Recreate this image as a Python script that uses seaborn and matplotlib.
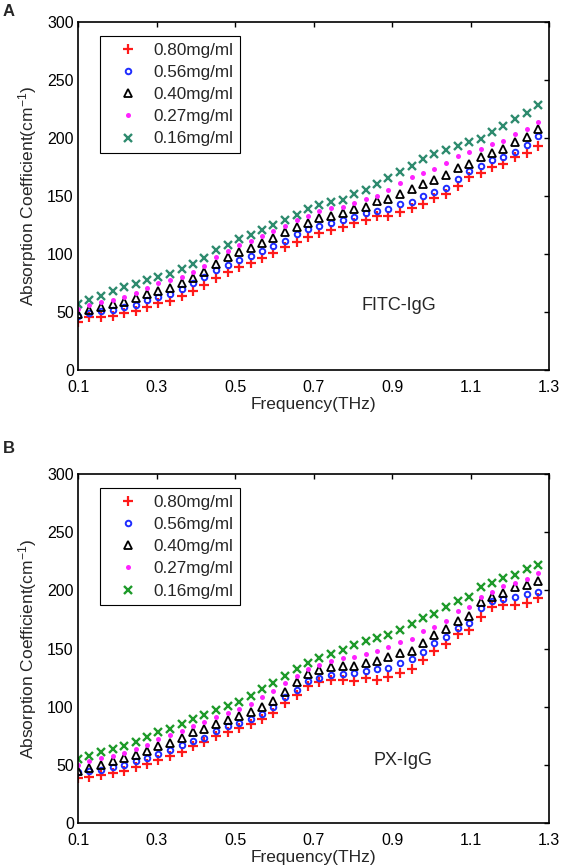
import numpy as np
import pandas as pd
import matplotlib
matplotlib.use("Agg")
import matplotlib.pyplot as plt
import seaborn as sns

# ---------------- data ----------------
freq = [0.100, 0.129, 0.159, 0.188, 0.217, 0.247, 0.276, 0.305, 0.334, 0.364,
        0.393, 0.422, 0.452, 0.481, 0.510, 0.540, 0.569, 0.598, 0.627, 0.657,
        0.686, 0.715, 0.745, 0.774, 0.803, 0.833, 0.862, 0.891, 0.920, 0.950,
        0.979, 1.008, 1.038, 1.067, 1.096, 1.126, 1.155, 1.184, 1.213, 1.243,
        1.272]

labels = ["0.80mg/ml", "0.56mg/ml", "0.40mg/ml", "0.27mg/ml", "0.16mg/ml"]

# Panel A : FITC-IgG
fitc_080 = [41.7, 45.4, 46.0, 46.5, 48.9, 51.1, 54.6, 57.5, 59.8, 63.8,
            68.4, 73.3, 79.6, 84.2, 89.1, 92.0, 96.3, 101.1, 105.7, 110.6,
            114.9, 118.4, 120.7, 123.0, 126.4, 129.3, 132.7, 132.8, 136.5, 139.4,
            142.8, 148.6, 151.7, 158.9, 166.7, 169.5, 175.3, 177.6, 183.9, 187.3,
            193.1]
fitc_056 = [46.5, 49.4, 50.9, 51.7, 54.0, 56.0, 60.3, 63.2, 65.2, 69.5,
            75.3, 80.5, 85.9, 90.2, 94.8, 98.3, 102.9, 106.9, 111.5, 116.9,
            121.3, 124.4, 127.0, 129.3, 132.2, 135.0, 137.3, 138.8, 143.1, 145.1,
            150.0, 153.7, 156.6, 164.6, 171.8, 175.8, 181.0, 183.3, 188.2, 193.7,
            201.7]
fitc_040 = [48.3, 51.7, 54.6, 56.6, 58.9, 61.8, 65.2, 68.4, 70.4, 74.7,
            79.6, 84.8, 91.4, 97.1, 101.4, 104.9, 109.2, 113.5, 119.2, 123.5,
            127.0, 130.7, 132.7, 135.0, 138.5, 140.8, 145.7, 147.1, 151.4, 156.0,
            160.3, 163.8, 168.1, 173.8, 178.0, 183.9, 187.4, 190.5, 196.3, 200.6,
            207.8]
fitc_027 = [52.3, 56.0, 58.9, 60.3, 63.2, 66.7, 71.0, 74.7, 77.6, 80.5,
            84.8, 89.6, 97.7, 102.6, 107.8, 111.5, 115.5, 119.6, 124.1, 129.3,
            132.8, 137.4, 139.4, 140.8, 143.7, 147.1, 150.0, 155.2, 161.5, 166.0,
            170.0, 173.3, 178.7, 184.8, 187.6, 190.5, 194.8, 197.7, 203.4, 207.8,
            214.0]
fitc_016 = [56.9, 60.3, 64.0, 68.0, 71.3, 73.9, 77.6, 80.5, 82.8, 86.8,
            91.4, 96.8, 103.4, 107.8, 112.6, 116.4, 120.7, 125.0, 129.3, 133.5,
            138.8, 142.5, 145.1, 146.5, 151.7, 155.2, 160.3, 165.5, 171.0, 176.1,
            181.8, 186.2, 190.0, 192.8, 196.3, 199.5, 205.0, 210.5, 216.1, 221.5,
            228.1]

# Panel B : PX-IgG
px_080 = [38.8, 39.4, 41.1, 43.1, 45.1, 47.9, 50.9, 54.6, 58.0, 61.3,
          66.2, 69.9, 75.1, 77.9, 81.4, 84.9, 89.4, 94.8, 102.9, 110.3,
          117.5, 120.9, 123.0, 123.3, 121.8, 124.4, 123.3, 125.9, 129.1, 132.4,
          140.2, 148.0, 153.5, 162.2, 166.3, 177.5, 185.6, 187.6, 187.0, 189.0,
          193.0]
px_056 = [44.0, 44.5, 46.0, 48.0, 49.5, 53.0, 55.5, 59.5, 63.0, 67.0,
          70.5, 73.5, 79.0, 83.0, 86.0, 89.5, 94.0, 99.5, 108.5, 114.5,
          122.0, 125.0, 127.0, 128.2, 128.7, 130.5, 132.8, 133.4, 137.3, 140.7,
          147.0, 155.0, 160.0, 168.0, 172.2, 184.5, 190.5, 192.5, 194.5, 196.5,
          198.7]
px_040 = [44.6, 47.5, 50.3, 53.2, 55.5, 58.4, 61.8, 66.1, 69.0, 73.3,
          78.2, 80.5, 84.9, 88.3, 92.1, 95.8, 99.8, 105.0, 112.7, 120.8,
          128.0, 131.4, 133.7, 135.2, 135.2, 137.2, 139.5, 142.9, 146.1, 148.1,
          154.4, 161.9, 166.8, 174.0, 178.3, 189.8, 194.1, 197.6, 202.8, 204.2,
          207.7]
px_027 = [50.0, 53.0, 55.5, 58.0, 60.5, 63.5, 67.5, 72.0, 75.5, 79.0,
          83.0, 87.0, 91.5, 95.0, 98.0, 102.0, 108.0, 113.5, 120.0, 126.0,
          132.0, 136.0, 139.5, 141.5, 143.0, 145.0, 148.0, 151.5, 155.5, 158.0,
          165.0, 168.5, 174.0, 182.0, 186.0, 194.0, 199.0, 204.0, 206.5, 210.0,
          214.5]
px_016 = [55.0, 57.5, 61.0, 64.0, 66.5, 69.6, 73.6, 78.0, 81.2, 84.9,
          89.0, 92.6, 97.4, 100.7, 104.4, 109.0, 115.0, 120.5, 126.8, 132.5,
          137.3, 141.5, 145.5, 148.7, 153.2, 156.2, 159.0, 161.5, 165.6, 171.2,
          176.0, 180.0, 186.0, 190.5, 194.5, 202.5, 206.5, 210.5, 213.5, 218.5,
          222.0]

xticks = [0.1, 0.3, 0.5, 0.7, 0.9, 1.1, 1.3]
yticks = [0, 50, 100, 150, 200, 250, 300]

# ---------------- style ----------------
sns.set_style("white")
plt.rcParams["font.family"] = ["Liberation Sans", "DejaVu Sans"]
plt.rcParams["mathtext.fontset"] = "custom"
plt.rcParams["mathtext.rm"] = "Liberation Sans"
plt.rcParams["mathtext.it"] = "Liberation Sans"

fig = plt.figure(figsize=(5.62, 8.68), dpi=100)
ax_a = fig.add_axes([0.1388, 0.5737, 0.8381, 0.4009])
ax_b = fig.add_axes([0.1388, 0.0518, 0.8381, 0.4021])


def styles(green):
    red, blue, mag = "#ff1a1a", "#1f2dff", "#ff22ff"
    return [
        dict(marker="+", color=red, markersize=7.5, markeredgewidth=1.6,
             markeredgecolor=red, markerfacecolor=red),
        dict(marker="o", color=blue, markersize=4.0, markeredgewidth=1.4,
             markerfacecolor="none", markeredgecolor=blue),
        dict(marker="^", color="black", markersize=5.8, markeredgewidth=1.3,
             markerfacecolor="none", markeredgecolor="black"),
        dict(marker="o", color=mag, markersize=3.6, markeredgewidth=0,
             markerfacecolor=mag, markeredgecolor=mag),
        dict(marker="x", color=green, markersize=5.2, markeredgewidth=1.7,
             markeredgecolor=green, markerfacecolor=green),
    ]


def draw(ax, series, green, name, name_xy):
    for lab, vals, st in zip(labels, series, styles(green)):
        df = pd.DataFrame({"freq": freq, "abs": vals})
        sns.lineplot(data=df, x="freq", y="abs", ax=ax, label=lab,
                     estimator=None, sort=False, linestyle="", **st)
    ax.set_xlim(0.1, 1.3)
    ax.set_ylim(0, 300)
    ax.set_xticks(xticks)
    ax.set_xticklabels([f"{t:.1f}" for t in xticks])
    ax.set_yticks(yticks)
    ax.tick_params(direction="in", length=3.5, width=1, top=True, right=True,
                   labelsize=11.5, colors="black")
    ax.tick_params(axis="x", pad=7.5)
    ax.tick_params(axis="y", pad=3)
    for sp in ax.spines.values():
        sp.set_color("black")
        sp.set_linewidth(1.2)
    ax.set_xlabel("Frequency(THz)", fontsize=12.5, labelpad=1)
    ax.set_ylabel("Absorption Coefficient(cm$^{-1}$)", fontsize=12.5, labelpad=6)
    leg = ax.legend(loc="upper left", bbox_to_anchor=(0.047, 0.96),
                    borderaxespad=0, fontsize=12.3, frameon=True, fancybox=False,
                    edgecolor="black", framealpha=1, handlelength=2.5,
                    handletextpad=0.2, labelspacing=0.42, borderpad=0.4)
    leg.get_frame().set_linewidth(0.8)
    ax.text(name_xy[0], name_xy[1], name, fontsize=13, ha="left", va="center")


draw(ax_a, [fitc_080, fitc_056, fitc_040, fitc_027, fitc_016], "#2e8b6e",
     "FITC-IgG", (0.821, 56))
draw(ax_b, [px_080, px_056, px_040, px_027, px_016], "#1e9a2a",
     "PX-IgG", (0.852, 53.5))

fig.text(0.005, 0.987, "A", fontsize=12, fontweight="bold", va="center", ha="left")
fig.text(0.005, 0.483, "B", fontsize=12, fontweight="bold", va="center", ha="left")

fig.savefig("out.png", dpi=100)
